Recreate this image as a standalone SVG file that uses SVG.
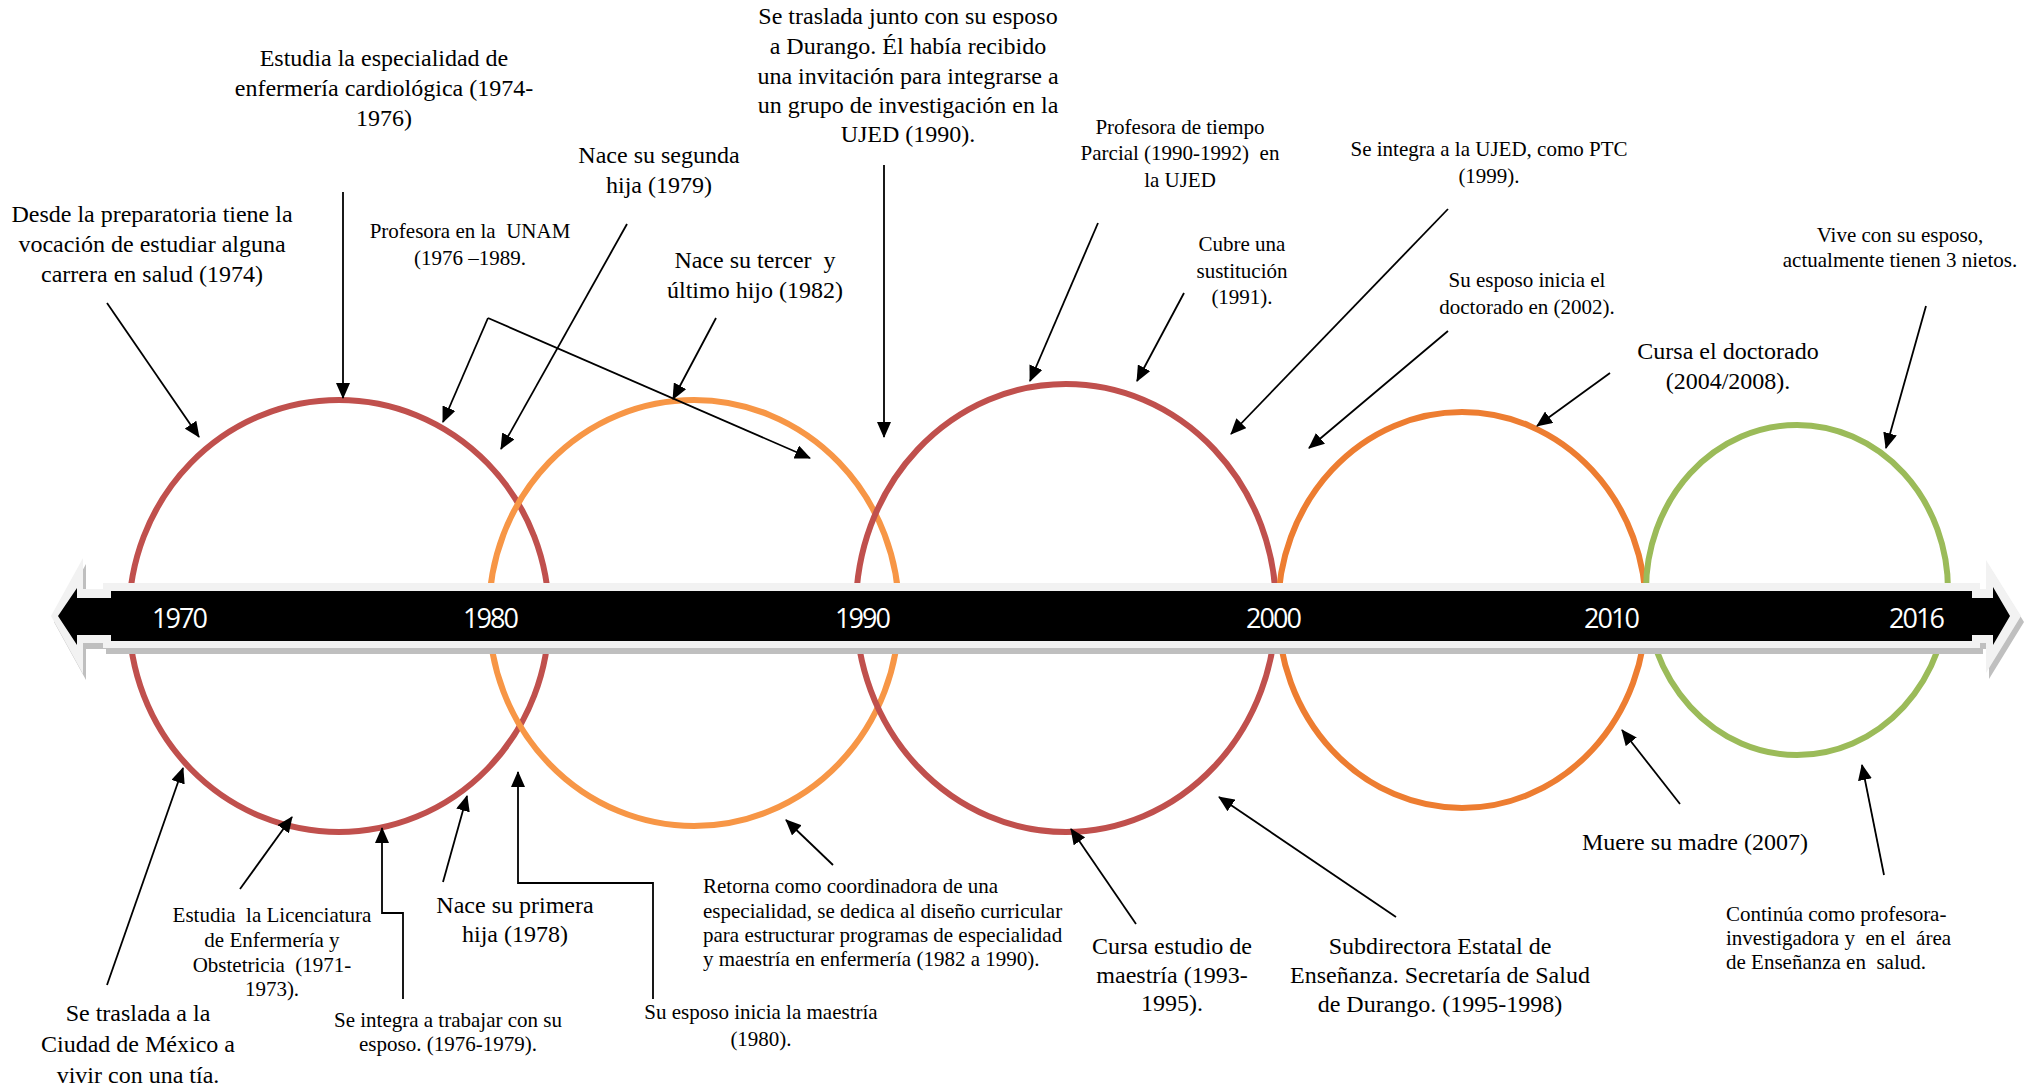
<svg xmlns="http://www.w3.org/2000/svg" width="2040" height="1090" viewBox="0 0 2040 1090">
<defs>
<style>
.t24{font-family:"Liberation Serif","Times New Roman",serif;font-size:24px;fill:#000}
.t21{font-family:"Liberation Serif","Times New Roman",serif;font-size:21px;fill:#000}
.c{text-anchor:middle}
.yr{font-family:"Open Sans","Noto Sans",sans-serif;font-size:27px;fill:#fff;text-anchor:middle}
.ring{fill:none;stroke-width:6}
.ln{fill:none;stroke:#000;stroke-width:1.8}
.arr{marker-end:url(#ah)}
</style>
<marker id="ah" viewBox="0 0 16 14" refX="15" refY="7" markerWidth="16" markerHeight="14" orient="auto" markerUnits="userSpaceOnUse"><path d="M0,0 L16,7 L0,14 z" fill="#000"/></marker>
</defs>
<rect width="2040" height="1090" fill="#fff"/>

<g id="rings">
<ellipse id="ring1" class="ring" cx="339" cy="616" rx="210" ry="216" stroke="#C0504D"/>
<ellipse id="ring2" class="ring" cx="694" cy="613" rx="205" ry="213" stroke="#F79646"/>
<ellipse id="ring3" class="ring" cx="1066" cy="608" rx="210" ry="224" stroke="#C0504D"/>
<ellipse id="ring4" class="ring" cx="1462" cy="610" rx="184" ry="198" stroke="#ED7D31"/>
<ellipse id="ring5" class="ring" cx="1797" cy="590" rx="151" ry="165" stroke="#9BBB59"/>
</g>

<g id="timeline">
<g fill="#bfbfbf" transform="translate(3,6)">
<polygon points="103,589 83,589 83,558 51,616 83,674 83,643 103,643"/>
<rect x="103" y="583" width="1877" height="65"/>
<polygon points="1980,589 1986,589 1986,560 2021,616 1986,673 1986,643 1980,643"/>
</g>
<polygon points="103,589 83,589 83,558 51,616 83,674 83,643 103,643" fill="#f2f2f2"/>
<polygon points="1980,589 1986,589 1986,560 2021,616 1986,673 1986,643 1980,643" fill="#f2f2f2"/>
<rect x="103" y="583" width="1877" height="65" fill="#f2f2f2"/>
<rect x="111" y="591" width="1861" height="50" fill="#000"/>
<polygon points="111,598 77,598 77,588 58,616 77,645 77,635 111,635" fill="#000"/>
<polygon points="1972,598 1993,598 1993,587 2010,616 1993,645 1993,635 1972,635" fill="#000"/>
<text class="yr" x="180" y="628" textLength="56">1970</text>
<text class="yr" x="491" y="628" textLength="56">1980</text>
<text class="yr" x="863" y="628" textLength="56">1990</text>
<text class="yr" x="1274" y="628" textLength="56">2000</text>
<text class="yr" x="1612" y="628" textLength="56">2010</text>
<text class="yr" x="1917" y="628" textLength="56">2016</text>
</g>

<g id="connectors">
<line class="ln arr" x1="107" y1="303" x2="199" y2="437"/>
<line class="ln arr" x1="343" y1="192" x2="343" y2="398"/>
<line class="ln arr" x1="488" y1="318" x2="443" y2="422"/>
<line class="ln arr" x1="488" y1="318" x2="810" y2="458"/>
<line class="ln arr" x1="627" y1="224" x2="501" y2="449"/>
<line class="ln arr" x1="716" y1="318" x2="673" y2="399"/>
<line class="ln arr" x1="884" y1="165" x2="884" y2="437"/>
<line class="ln arr" x1="1098" y1="223" x2="1030" y2="381"/>
<line class="ln arr" x1="1184" y1="293" x2="1137" y2="381"/>
<line class="ln arr" x1="1448" y1="209" x2="1231" y2="434"/>
<line class="ln arr" x1="1448" y1="331" x2="1309" y2="448"/>
<line class="ln arr" x1="1610" y1="373" x2="1537" y2="426"/>
<line class="ln arr" x1="1926" y1="306" x2="1886" y2="448"/>
<line class="ln arr" x1="107" y1="985" x2="183" y2="768"/>
<line class="ln arr" x1="240" y1="889" x2="292" y2="817"/>
<path class="ln arr" d="M403,999 L403,913 L382,913 L382,828"/>
<line class="ln arr" x1="443" y1="882" x2="467" y2="796"/>
<path class="ln arr" d="M653,999 L653,883 L518,883 L518,772"/>
<line class="ln arr" x1="833" y1="865" x2="786" y2="820"/>
<line class="ln arr" x1="1136" y1="924" x2="1071" y2="829"/>
<line class="ln arr" x1="1396" y1="917" x2="1219" y2="797"/>
<line class="ln arr" x1="1680" y1="804" x2="1622" y2="730"/>
<line class="ln arr" x1="1884" y1="875" x2="1862" y2="765"/>
</g>

<g id="n-especialidad"><text class="t24 c"><tspan x="384" y="66">Estudia la especialidad de</tspan><tspan x="384" y="96">enfermería cardiológica (1974-</tspan><tspan x="384" y="126">1976)</tspan></text></g>
<g id="n-preparatoria"><text class="t24 c"><tspan x="152" y="222">Desde la preparatoria tiene la</tspan><tspan x="152" y="252">vocación de estudiar alguna</tspan><tspan x="152" y="282">carrera en salud (1974)</tspan></text></g>
<g id="n-unam"><text class="t21 c" xml:space="preserve"><tspan x="470" y="238">Profesora en la  UNAM</tspan><tspan x="470" y="265">(1976 –1989.</tspan></text></g>
<g id="n-segunda"><text class="t24 c"><tspan x="659" y="163">Nace su segunda</tspan><tspan x="659" y="193">hija (1979)</tspan></text></g>
<g id="n-tercer"><text class="t24 c" xml:space="preserve"><tspan x="755" y="268">Nace su tercer  y</tspan><tspan x="755" y="298">último hijo (1982)</tspan></text></g>
<g id="n-durango"><text class="t24 c"><tspan x="908" y="24">Se traslada junto con su esposo</tspan><tspan x="908" y="54">a Durango. Él había recibido</tspan><tspan x="908" y="84">una invitación para integrarse a</tspan><tspan x="908" y="113">un grupo de investigación en la</tspan><tspan x="908" y="142">UJED (1990).</tspan></text></g>
<g id="n-parcial"><text class="t21 c" xml:space="preserve"><tspan x="1180" y="134">Profesora de tiempo</tspan><tspan x="1180" y="160">Parcial (1990-1992)  en</tspan><tspan x="1180" y="187">la UJED</tspan></text></g>
<g id="n-sustitucion"><text class="t21 c"><tspan x="1242" y="251">Cubre una</tspan><tspan x="1242" y="278">sustitución</tspan><tspan x="1242" y="304">(1991).</tspan></text></g>
<g id="n-ptc"><text class="t21 c"><tspan x="1489" y="156">Se integra a la UJED, como PTC</tspan><tspan x="1489" y="183">(1999).</tspan></text></g>
<g id="n-doctorado-esposo"><text class="t21 c"><tspan x="1527" y="287">Su esposo inicia el</tspan><tspan x="1527" y="314">doctorado en (2002).</tspan></text></g>
<g id="n-doctorado"><text class="t24 c"><tspan x="1728" y="359">Cursa el doctorado</tspan><tspan x="1728" y="389">(2004/2008).</tspan></text></g>
<g id="n-nietos"><text class="t21 c"><tspan x="1900" y="242">Vive con su esposo,</tspan><tspan x="1900" y="267">actualmente tienen 3 nietos.</tspan></text></g>

<g id="n-mexico"><text class="t24 c"><tspan x="138" y="1021">Se traslada a la</tspan><tspan x="138" y="1052">Ciudad de México a</tspan><tspan x="138" y="1083">vivir con una tía.</tspan></text></g>
<g id="n-licenciatura"><text class="t21 c" xml:space="preserve"><tspan x="272" y="922">Estudia  la Licenciatura</tspan><tspan x="272" y="947">de Enfermería y</tspan><tspan x="272" y="972">Obstetricia  (1971-</tspan><tspan x="272" y="996">1973).</tspan></text></g>
<g id="n-trabajar"><text class="t21 c"><tspan x="448" y="1027">Se integra a trabajar con su</tspan><tspan x="448" y="1051">esposo. (1976-1979).</tspan></text></g>
<g id="n-primera"><text class="t24 c"><tspan x="515" y="913">Nace su primera</tspan><tspan x="515" y="942">hija (1978)</tspan></text></g>
<g id="n-maestria-esposo"><text class="t21 c"><tspan x="761" y="1019">Su esposo inicia la maestría</tspan><tspan x="761" y="1046">(1980).</tspan></text></g>
<g id="n-retorna"><text class="t21"><tspan x="703" y="893">Retorna como coordinadora de una</tspan><tspan x="703" y="918">especialidad, se dedica al diseño curricular</tspan><tspan x="703" y="942">para estructurar programas de especialidad</tspan><tspan x="703" y="966">y maestría en enfermería (1982 a 1990).</tspan></text></g>
<g id="n-maestria"><text class="t24 c"><tspan x="1172" y="954">Cursa estudio de</tspan><tspan x="1172" y="983">maestría (1993-</tspan><tspan x="1172" y="1011">1995).</tspan></text></g>
<g id="n-subdirectora"><text class="t24 c"><tspan x="1440" y="954">Subdirectora Estatal de</tspan><tspan x="1440" y="983">Enseñanza. Secretaría de Salud</tspan><tspan x="1440" y="1012">de Durango. (1995-1998)</tspan></text></g>
<g id="n-madre"><text class="t24 c"><tspan x="1695" y="850">Muere su madre (2007)</tspan></text></g>
<g id="n-continua"><text class="t21" xml:space="preserve"><tspan x="1726" y="921">Continúa como profesora-</tspan><tspan x="1726" y="945">investigadora y  en el  área</tspan><tspan x="1726" y="969">de Enseñanza en  salud.</tspan></text></g>
</svg>
